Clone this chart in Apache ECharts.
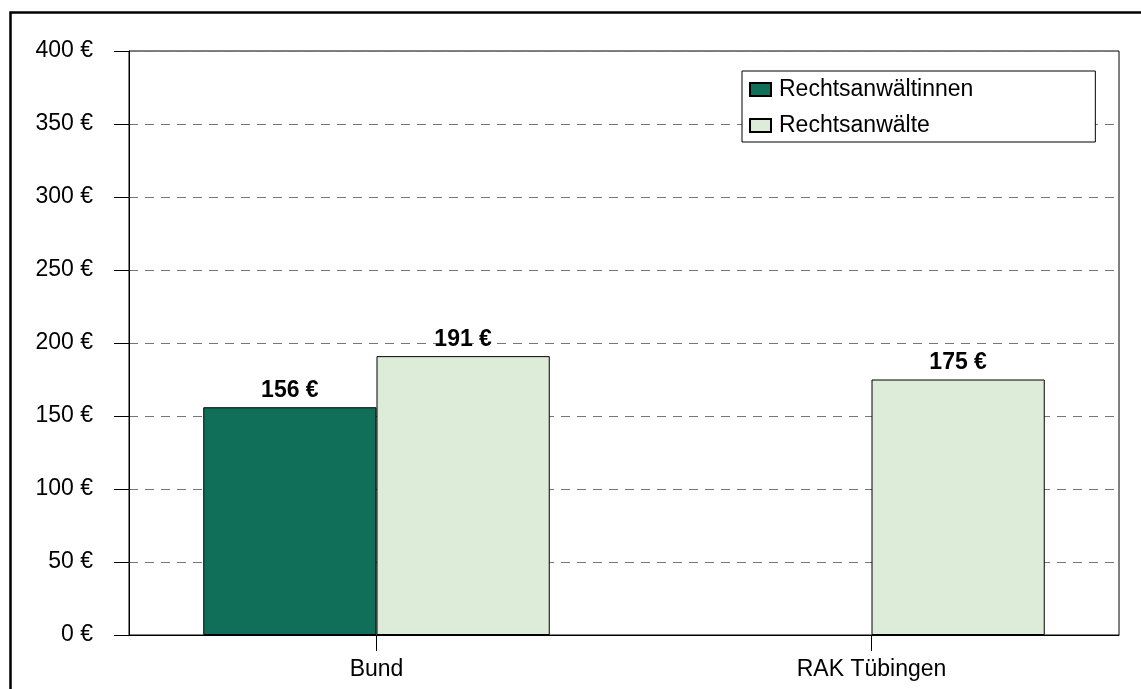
<!DOCTYPE html>
<html>
<head>
<meta charset="utf-8">
<script src="https://cdn.jsdelivr.net/npm/echarts@6/dist/echarts.min.js"></script>
<style>
  html, body { margin: 0; padding: 0; background: #fff; }
  #main { width: 1141px; height: 689px; }
</style>
</head>
<body>
<div id="main"></div>
<script>
var categories = ['Bund', 'RAK Tübingen'];
var seriesNames = ['Rechtsanwältinnen', 'Rechtsanwälte'];
var womenValues = [156, null];
var menValues = [191, 175];
var yTicks = [0, 50, 100, 150, 200, 250, 300, 350, 400];

var myChart = echarts.init(document.getElementById('main'));
var font = '"Liberation Sans", Arial, sans-serif';

var barLabel = {
    show: true,
    position: 'top',
    distance: 5,
    color: '#000',
    fontFamily: font,
    fontWeight: 'bold',
    fontSize: 23,
    formatter: function (p) { return p.value + ' €'; }
};

option = {
    backgroundColor: '#fff',
    animation: false,
    textStyle: { fontFamily: font },
    graphic: [{
        type: 'rect',
        left: 8,
        top: 10,
        shape: { width: 1300, height: 800 },
        style: { fill: 'none', stroke: '#000', lineWidth: 2.5 },
        silent: true
    }],
    legend: {
        data: seriesNames,
        orient: 'vertical',
        left: 742,
        top: 71,
        icon: 'rect',
        itemWidth: 21,
        itemHeight: 13,
        itemGap: 13,
        padding: [7, 122, 5, 7],
        backgroundColor: '#fff',
        borderColor: '#000',
        borderWidth: 1,
        borderRadius: 0,
        textStyle: { color: '#000', fontSize: 23, fontFamily: font, padding: [0, 0, 0, 3] }
    },
    grid: {
        left: 129,
        right: 22,
        top: 51,
        bottom: 54,
        show: true,
        borderColor: '#000',
        borderWidth: 1,
        backgroundColor: '#fff'
    },
    xAxis: {
        type: 'category',
        data: categories,
        axisLine: { lineStyle: { color: '#000', width: 1 } },
        axisTick: { show: true, alignWithLabel: true, length: 16, lineStyle: { color: '#000' } },
        axisLabel: { color: '#000', fontSize: 23, margin: 23, fontFamily: font },
        splitLine: { show: false }
    },
    yAxis: {
        type: 'value',
        min: yTicks[0],
        max: yTicks[yTicks.length - 1],
        interval: 50,
        axisLine: { show: true, lineStyle: { color: '#000', width: 1 } },
        axisTick: { show: true, inside: false, length: 15, lineStyle: { color: '#000' } },
        axisLabel: {
            color: '#000', fontSize: 23, margin: 36, fontFamily: font,
            formatter: function (v) { return v + ' €'; }
        },
        splitLine: { show: true, lineStyle: { color: '#777', type: [9, 7], width: 1 } }
    },
    series: [{
        name: seriesNames[0],
        type: 'bar',
        data: womenValues,
        barGap: 0,
        barCategoryGap: '30%',
        itemStyle: { color: '#106F59', borderColor: '#000', borderWidth: 1 },
        label: barLabel
    }, {
        name: seriesNames[1],
        type: 'bar',
        data: menValues,
        barGap: 0,
        barCategoryGap: '30%',
        itemStyle: { color: '#DCECD8', borderColor: '#000', borderWidth: 1 },
        label: barLabel
    }]
};

myChart.setOption(option);
</script>
</body>
</html>
